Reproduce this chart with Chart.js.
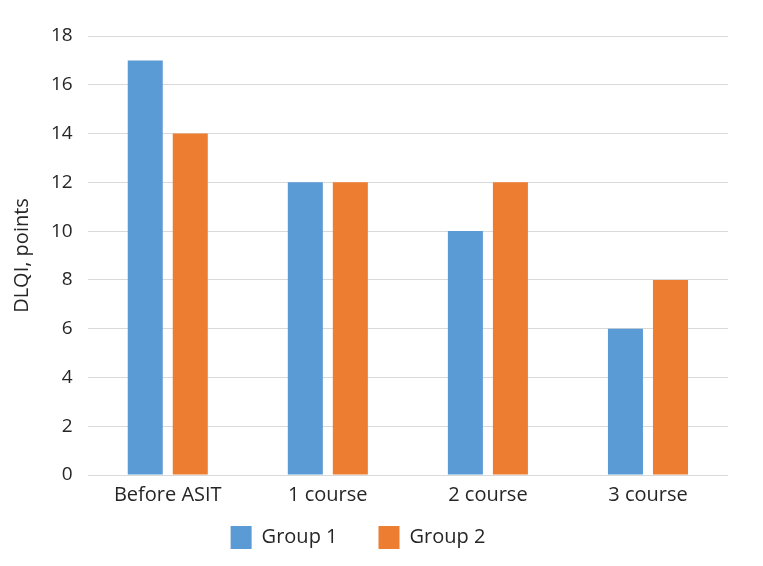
<!DOCTYPE html>
<html>
<head>
<meta charset="utf-8">
<script src="https://cdn.jsdelivr.net/npm/chart.js@4"></script>
<style>
  html, body { margin: 0; padding: 0; background: #ffffff; }
  #wrap { width: 763px; height: 566px; position: relative; }
</style>
</head>
<body>
<div id="wrap"><canvas id="c"></canvas></div>
<script>
const categories = ["Before ASIT", "1 course", "2 course", "3 course"];
const group1 = [17, 12, 10, 6];
const group2 = [14, 12, 12, 8];
const seriesNames = ["Group 1", "Group 2"];
const yTicks = [0, 2, 4, 6, 8, 10, 12, 14, 16, 18];

const FONT = "'Open Sans', 'Noto Sans', sans-serif";
const TEXT = "#262626";

const shiftLegend = {
  id: 'shiftLegend',
  afterLayout(chart) {
    const L = chart.legend;
    L.left -= 6; L.right -= 6;
    L.top -= 22; L.bottom -= 22;
  }
};

new Chart(document.getElementById('c'), {
  type: 'bar',
  data: {
    labels: categories,
    datasets: [
      { label: seriesNames[0], data: group1, backgroundColor: '#5B9BD5' },
      { label: seriesNames[1], data: group2, backgroundColor: '#ED7D31' }
    ]
  },
  options: {
    responsive: true,
    maintainAspectRatio: false,
    animation: false,
    datasets: { bar: { categoryPercentage: 0.5625, barPercentage: 0.778 } },
    layout: { padding: { top: 36, right: 35, left: 0, bottom: -15 } },
    plugins: {
      legend: {
        position: 'bottom',
        labels: {
          boxWidth: 21, boxHeight: 23, padding: 41,
          color: TEXT,
          font: { family: FONT, size: 20 }
        }
      },
      tooltip: { enabled: false }
    },
    scales: {
      x: {
        grid: { display: false },
        border: { display: false },
        ticks: { color: TEXT, font: { family: FONT, size: 20 }, padding: 0 }
      },
      y: {
        min: 0, max: 18,
        afterBuildTicks(axis) { axis.ticks = yTicks.map(v => ({ value: v })); },
        grid: { color: '#d9d9d9', drawTicks: false },
        border: { display: false },
        ticks: { color: TEXT, font: { family: FONT, size: 19 }, padding: 15 },
        title: { display: true, text: 'DLQI, points', color: TEXT, font: { family: FONT, size: 20 }, padding: { top: 10, bottom: 2 } }
      }
    }
  },
  plugins: [shiftLegend]
});
</script>
</body>
</html>
